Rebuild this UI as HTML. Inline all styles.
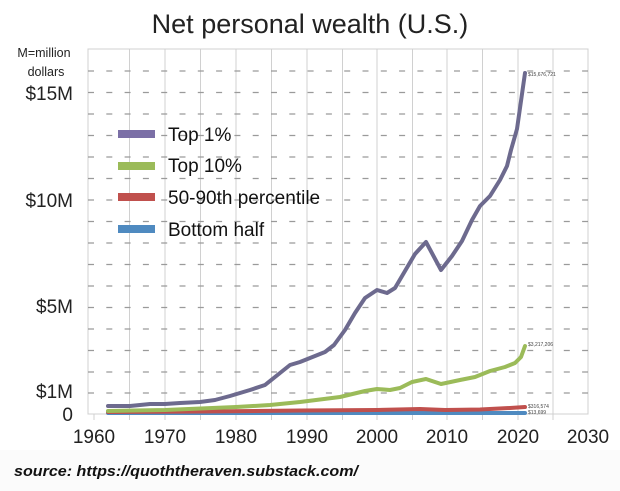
<!DOCTYPE html>
<html><head><style>
html,body{margin:0;padding:0;background:#fff;}
svg{display:block;font-family:"Liberation Sans",sans-serif;}
</style></head><body>
<svg width="620" height="491" viewBox="0 0 620 491">
<rect width="620" height="491" fill="#fff"/>
<rect x="0" y="450" width="620" height="41" fill="#fbfbfb"/>
<text x="310" y="33" font-size="27" text-anchor="middle" fill="#222">Net personal wealth (U.S.)</text>
<text x="44" y="57" font-size="12.5" text-anchor="middle" fill="#222">M=million</text>
<text x="46" y="76" font-size="12.5" text-anchor="middle" fill="#222">dollars</text>
<g font-size="19" fill="#222" text-anchor="end">
<text x="73" y="100">$15M</text>
<text x="73" y="207">$10M</text>
<text x="73" y="313">$5M</text>
<text x="73" y="398">$1M</text>
<text x="73" y="421">0</text>
</g>
<g stroke="#d0d0d0" stroke-width="1">
<rect x="88" y="49" width="500" height="365" fill="none"/>
<line x1="129.5" y1="49" x2="129.5" y2="420"/>
<line x1="165" y1="49" x2="165" y2="420"/>
<line x1="200.5" y1="49" x2="200.5" y2="420"/>
<line x1="236" y1="49" x2="236" y2="420"/>
<line x1="271.5" y1="49" x2="271.5" y2="420"/>
<line x1="307" y1="49" x2="307" y2="420"/>
<line x1="342.5" y1="49" x2="342.5" y2="420"/>
<line x1="377" y1="49" x2="377" y2="420"/>
<line x1="412.5" y1="49" x2="412.5" y2="420"/>
<line x1="447" y1="49" x2="447" y2="420"/>
<line x1="482.5" y1="49" x2="482.5" y2="420"/>
<line x1="518" y1="49" x2="518" y2="420"/>
<line x1="553" y1="49" x2="553" y2="420"/>
<line x1="94" y1="414" x2="94" y2="420"/>
</g>
<g stroke="#9a9a9a" stroke-width="1.2" stroke-dasharray="6 12.3">
<line x1="88" y1="71" x2="588" y2="71"/>
<line x1="88" y1="92.5" x2="588" y2="92.5"/>
<line x1="88" y1="114" x2="588" y2="114"/>
<line x1="88" y1="135.5" x2="588" y2="135.5"/>
<line x1="88" y1="157" x2="588" y2="157"/>
<line x1="88" y1="178.5" x2="588" y2="178.5"/>
<line x1="88" y1="200" x2="588" y2="200"/>
<line x1="88" y1="221.5" x2="588" y2="221.5"/>
<line x1="88" y1="243" x2="588" y2="243"/>
<line x1="88" y1="264.5" x2="588" y2="264.5"/>
<line x1="88" y1="286" x2="588" y2="286"/>
<line x1="88" y1="307.5" x2="588" y2="307.5"/>
<line x1="88" y1="329" x2="588" y2="329"/>
<line x1="88" y1="350.5" x2="588" y2="350.5"/>
<line x1="88" y1="372" x2="588" y2="372"/>
<line x1="88" y1="393" x2="588" y2="393"/>
</g>
<g font-size="19" fill="#222" text-anchor="middle">
<text x="94" y="443">1960</text><text x="165" y="443">1970</text><text x="236" y="443">1980</text>
<text x="307" y="443">1990</text><text x="377" y="443">2000</text><text x="447" y="443">2010</text>
<text x="518" y="443">2020</text><text x="588" y="443">2030</text>
</g>
<g fill="none" stroke-width="4" stroke-linejoin="round" stroke-linecap="round">
<polyline stroke="#4f8ac0" points="108,413 525,413"/>
<polyline stroke="#c0504d" points="108,412 200,411.5 300,410.5 377,410 420,409 445,410 480,409.5 510,408 525,407"/>
<polyline stroke="#9bbb59" points="108,411 165,410 236,407 270,405 300,402 340,397 365,391 377,389 390,390 400,388 412,382 426,379 441,384 460,380 475,377 490,371 505,367 515,363 521,357 525,346"/>
<polyline stroke="#6d6a8e" points="108,406 130,406 150,404 165,404 180,403 200,402 215,400 230,396 250,390 265,385 280,373 290,365 300,362 310,358 325,352 334,345 345,330 355,313 365,298 377,290 387,293 395,288 405,271 415,254 426,242 441,270 452,256 462,241 472,220 480,206 490,196 500,180 507,166 511,150 517,129 525,73"/>
</g>
<g font-size="5" fill="#444">
<text x="528" y="76">$15,676,721</text>
<text x="528" y="346">$3,217,206</text>
<text x="528" y="408">$316,574</text>
<text x="528" y="414">$13,699</text>
</g>
<g>
<rect x="118" y="130" width="37" height="8" fill="#7b6fa6"/>
<rect x="118" y="162" width="37" height="8" fill="#9bbb59"/>
<rect x="118" y="193" width="37" height="8" fill="#c0504d"/>
<rect x="118" y="225" width="37" height="8" fill="#4f8ac0"/>
</g>
<g font-size="19" fill="#111">
<text x="168" y="141">Top 1%</text>
<text x="168" y="172">Top 10%</text>
<text x="168" y="204">50-90th percentile</text>
<text x="168" y="236">Bottom half</text>
</g>
<text x="14" y="476" font-size="14.5" font-weight="bold" font-style="italic" fill="#111" textLength="344" lengthAdjust="spacingAndGlyphs">source: https://quoththeraven.substack.com/</text>
</svg>
</body></html>
